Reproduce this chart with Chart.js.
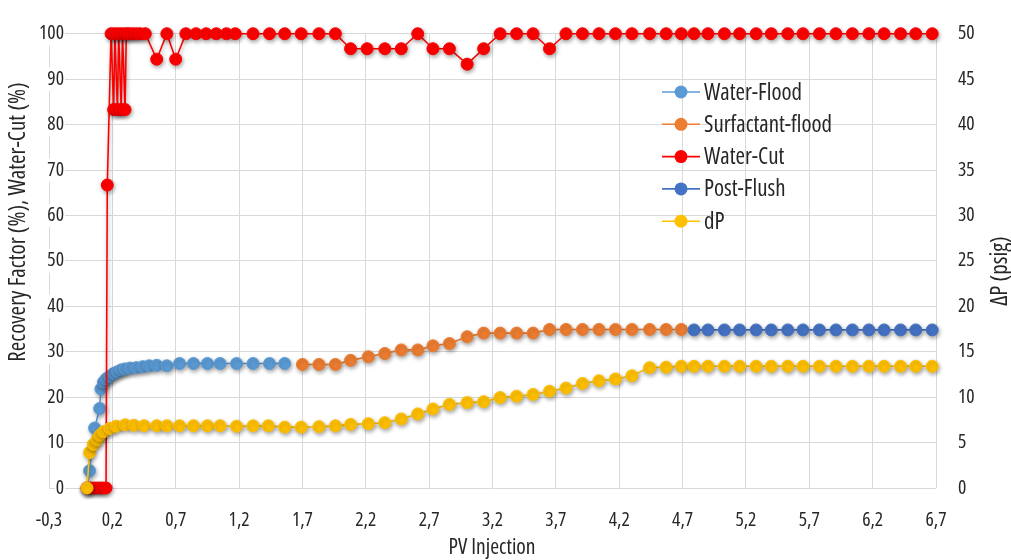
<!DOCTYPE html>
<html>
<head>
<meta charset="utf-8">
<script src="https://cdn.jsdelivr.net/npm/chart.js@4.4.1/dist/chart.umd.min.js"></script>
<style>
  html, body { margin: 0; background: #fff; }
</style>
</head>
<body>
<canvas id="c" width="1011" height="560"></canvas>
<script>
// PV injection ticks (x axis) and the readings
const xTicks = [-0.3, 0.2, 0.7, 1.2, 1.7, 2.2, 2.7, 3.2, 3.7, 4.2, 4.7, 5.2, 5.7, 6.2, 6.7];

const waterFloodPV = [0.00, 0.02, 0.06, 0.10, 0.11, 0.13, 0.15, 0.18, 0.21, 0.24, 0.27, 0.30, 0.34, 0.39, 0.44, 0.49, 0.55, 0.63, 0.73, 0.84, 0.95, 1.05, 1.18, 1.31, 1.44, 1.56];
const waterFloodRF = [0, 3.8, 13.2, 17.5, 21.8, 23.3, 24.0, 24.6, 25.2, 25.6, 26.0, 26.2, 26.4, 26.5, 26.7, 26.9, 27.0, 26.9, 27.4, 27.4, 27.4, 27.4, 27.4, 27.4, 27.4, 27.4];

const surfactantPV = [1.70, 1.83, 1.96, 2.08, 2.22, 2.35, 2.48, 2.61, 2.73, 2.86, 3.00, 3.13, 3.26, 3.39, 3.52, 3.65, 3.78, 3.91, 4.04, 4.17, 4.30, 4.44, 4.57, 4.69];
const surfactantRF = [27.2, 27.2, 27.2, 28.1, 28.9, 29.6, 30.4, 30.4, 31.3, 31.8, 33.3, 34.1, 34.1, 34.1, 34.1, 34.9, 34.9, 34.9, 34.9, 34.9, 34.9, 34.9, 34.9, 34.9];

const postFlushPV = [4.79, 4.90, 5.03, 5.15, 5.28, 5.40, 5.53, 5.65, 5.78, 5.91, 6.04, 6.17, 6.29, 6.42, 6.54, 6.67];
const postFlushRF = [34.8, 34.8, 34.8, 34.8, 34.8, 34.8, 34.8, 34.8, 34.8, 34.8, 34.8, 34.8, 34.8, 34.8, 34.8, 34.8];

const waterCutPV = [0.00, 0.03, 0.06, 0.09, 0.12, 0.15, 0.16, 0.19, 0.21, 0.22, 0.24, 0.25, 0.27, 0.28, 0.30, 0.31, 0.33, 0.36, 0.39, 0.42, 0.46,
  0.55, 0.63, 0.70, 0.78, 0.86, 0.94, 1.02, 1.10, 1.17, 1.31, 1.44, 1.56, 1.69, 1.83, 1.96, 2.08, 2.21, 2.35, 2.48, 2.61, 2.73, 2.86,
  3.00, 3.13, 3.26, 3.39, 3.52, 3.65, 3.78, 3.91, 4.04, 4.17, 4.30, 4.44, 4.57, 4.69, 4.79, 4.90, 5.03, 5.15, 5.28, 5.40, 5.53, 5.65,
  5.78, 5.91, 6.04, 6.17, 6.29, 6.42, 6.54, 6.67];
const waterCut = [0, 0, 0, 0, 0, 0, 66.7, 100, 83.3, 100, 83.3, 100, 83.3, 100, 83.3, 100, 100, 100, 100, 100, 100,
  94.4, 100, 94.4, 100, 100, 100, 100, 100, 100, 100, 100, 100, 100, 100, 100, 96.7, 96.7, 96.7, 96.7, 100, 96.7, 96.7,
  93.3, 96.7, 100, 100, 100, 96.7, 100, 100, 100, 100, 100, 100, 100, 100, 100, 100, 100, 100, 100, 100, 100, 100,
  100, 100, 100, 100, 100, 100, 100, 100];

const dpPV = [0.00, 0.02, 0.05, 0.08, 0.10, 0.13, 0.18, 0.23, 0.30, 0.37, 0.45, 0.55, 0.63, 0.73, 0.84, 0.95, 1.05, 1.18,
  1.31, 1.43, 1.56, 1.69, 1.83, 1.96, 2.08, 2.22, 2.35, 2.48, 2.61, 2.73, 2.86, 3.00, 3.13, 3.26, 3.39, 3.52, 3.65, 3.78,
  3.91, 4.04, 4.17, 4.30, 4.44, 4.57, 4.69, 4.79, 4.90, 5.03, 5.15, 5.28, 5.40, 5.53, 5.65, 5.78, 5.91, 6.04, 6.17, 6.29,
  6.42, 6.54, 6.67];
const dpPsig = [0, 3.9, 4.8, 5.3, 5.8, 6.2, 6.55, 6.8, 6.95, 6.9, 6.85, 6.85, 6.85, 6.85, 6.85, 6.85, 6.85, 6.8,
  6.84, 6.84, 6.7, 6.7, 6.75, 6.84, 7.0, 7.08, 7.19, 7.6, 8.15, 8.7, 9.2, 9.4, 9.5, 9.95, 10.1, 10.3, 10.65, 11.0,
  11.5, 11.8, 12.0, 12.35, 13.25, 13.3, 13.4, 13.4, 13.4, 13.4, 13.4, 13.4, 13.4, 13.4, 13.4, 13.4, 13.4, 13.4, 13.4, 13.4,
  13.4, 13.4, 13.4];

const TXT = '#262626';
const GRID = '#d9d9d9';

// the original uses a narrow face; take whichever installed one comes out narrowest
const fontCandidates = [
  { family: "'Liberation Sans Narrow', sans-serif", weight: 'normal' },
  { family: "'DejaVu Sans Condensed', sans-serif", weight: 'normal' },
  { family: "'DejaVu Sans', sans-serif", weight: 'normal condensed' },
  { family: "'Open Sans', sans-serif", weight: 'normal condensed' },
  { family: "'Noto Sans', sans-serif", weight: 'normal condensed' },
  { family: "Roboto, sans-serif", weight: 'normal' },
  { family: "Lato, sans-serif", weight: 'normal' }
];
const mctx = document.createElement('canvas').getContext('2d');
function textW(f, text, size) {
  mctx.font = f.weight + ' ' + size + 'px ' + f.family;
  return mctx.measureText(text).width;
}
let face = fontCandidates[0];
fontCandidates.forEach(f => {
  if (textW(f, 'Surfactant-flood', 100) < textW(face, 'Surfactant-flood', 100)) face = f;
});
const sizeFor = (text, target) => Math.min(23, Math.round(1000 * target / textW(face, text, 100)) / 10);
const tickSize = sizeFor('100', 25);
const legendSize = sizeFor('Surfactant-flood', 128);
const xTitleSize = sizeFor('PV Injection', 87);
const yTitleSize = sizeFor('Recovery Factor (%), Water-Cut (%)', 312);
const dpTitleSize = sizeFor('ΔP (psig)', 78);
const fontStr = s => face.weight + ' ' + s + 'px ' + face.family;
const tickFont = { family: face.family, weight: face.weight, size: tickSize };
const widest100 = textW(face, '100', tickSize);

Chart.defaults.font.family = face.family;
Chart.defaults.font.weight = face.weight;
Chart.defaults.font.size = tickSize;
Chart.defaults.color = TXT;

function pts(xs, ys) {
  return xs.map((x, i) => ({ x: x, y: ys[i] }));
}

function series(label, xs, ys, color, axis, order) {
  return {
    label: label,
    data: pts(xs, ys),
    yAxisID: axis,
    order: order,
    showLine: true,
    clip: false,
    borderColor: color,
    backgroundColor: color,
    borderWidth: 1.6,
    pointRadius: 6,
    pointBorderWidth: 1,
    pointBorderColor: color,
    pointBackgroundColor: color,
    tension: 0
  };
}

// soft shadow under markers/lines, like the office chart
const shadow = {
  id: 'shadow',
  beforeDatasetsDraw(chart) {
    const c = chart.ctx;
    c.save();
    c.shadowColor = 'rgba(0,0,0,0.35)';
    c.shadowBlur = 4;
    c.shadowOffsetX = 1;
    c.shadowOffsetY = 2;
  },
  afterDatasetsDraw(chart) {
    chart.ctx.restore();
  }
};

// legend box inside the plot + axis titles
const extras = {
  id: 'extras',
  afterDraw(chart) {
    const c = chart.ctx;
    c.save();
    c.font = fontStr(legendSize);
    c.textBaseline = 'middle';
    chart.data.datasets.forEach((ds, i) => {
      const y = 92 + i * 32.3;
      c.strokeStyle = ds.borderColor;
      c.lineWidth = 1.6;
      c.beginPath();
      c.moveTo(662, y);
      c.lineTo(700, y);
      c.stroke();
      c.fillStyle = ds.backgroundColor;
      c.beginPath();
      c.arc(681, y, 6.5, 0, Math.PI * 2);
      c.fill();
      c.fillStyle = TXT;
      c.textAlign = 'left';
      c.fillText(ds.label, 704, y + 1);
    });

    c.font = fontStr(xTitleSize);
    c.fillStyle = TXT;
    c.textAlign = 'center';
    c.fillText('PV Injection', 492, 548);

    c.font = fontStr(yTitleSize);
    c.translate(18, 222);
    c.rotate(-Math.PI / 2);
    c.fillText('Recovery Factor (%), Water-Cut (%)', 0, 0);
    c.restore();

    c.save();
    c.font = fontStr(dpTitleSize);
    c.fillStyle = TXT;
    c.textAlign = 'center';
    c.textBaseline = 'middle';
    c.translate(1000, 271);
    c.rotate(-Math.PI / 2);
    c.fillText('ΔP (psig)', 0, 0);
    c.restore();
  }
};

new Chart(document.getElementById('c'), {
  type: 'scatter',
  data: {
    datasets: [
      series('Water-Flood', waterFloodPV, waterFloodRF, '#5b9bd5', 'y', 5),
      series('Surfactant-flood', surfactantPV, surfactantRF, '#ed7d31', 'y', 4),
      series('Water-Cut', waterCutPV, waterCut, '#ff0000', 'y', 3),
      series('Post-Flush', postFlushPV, postFlushRF, '#4472c4', 'y', 2),
      series('dP', dpPV, dpPsig, '#ffc000', 'y1', 1)
    ]
  },
  options: {
    responsive: false,
    animation: false,
    layout: { padding: { top: 20, left: 0, right: 0, bottom: 0 } },
    plugins: { legend: { display: false }, tooltip: { enabled: false } },
    scales: {
      x: {
        type: 'linear',
        min: -0.3,
        max: 6.7,
        afterBuildTicks: s => { s.ticks = xTicks.map(v => ({ value: v })); },
        afterFit: s => { s.height = 72; },
        ticks: {
          font: tickFont,
          padding: 21,
          maxRotation: 0,
          autoSkip: false,
          callback: v => v.toFixed(1).replace('.', ',')
        },
        grid: { color: GRID, lineWidth: 1, drawTicks: false },
        border: { display: false }
      },
      y: {
        position: 'left',
        min: 0,
        max: 100,
        afterFit: s => { s.width = 49; },
        ticks: {
          font: tickFont,
          stepSize: 10,
          mirror: true,
          crossAlign: 'far',
          padding: 15 - widest100,
          showLabelBackdrop: true,
          backdropColor: '#ffffff',
          backdropPadding: { top: 0, bottom: 0, left: 1, right: 1 }
        },
        grid: { color: GRID, lineWidth: 1, drawTicks: false },
        border: { display: false }
      },
      y1: {
        position: 'right',
        min: 0,
        max: 50,
        afterFit: s => { s.width = 75; },
        ticks: { font: tickFont, stepSize: 5, padding: 22 },
        grid: { drawOnChartArea: false, drawTicks: false },
        border: { display: false }
      }
    }
  },
  plugins: [shadow, extras]
});
</script>
</body>
</html>
